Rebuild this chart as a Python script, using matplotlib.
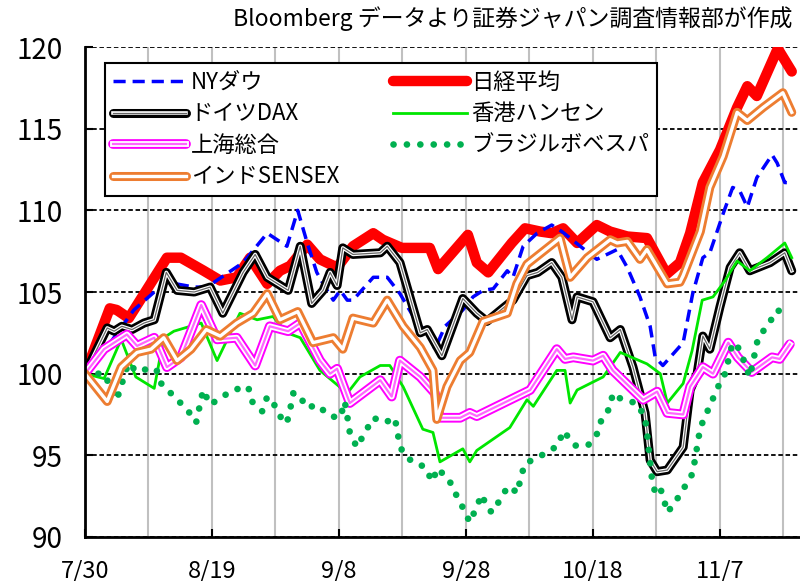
import matplotlib
matplotlib.use("Agg")
import matplotlib.pyplot as plt
import matplotlib.patheffects as pe

plt.rcParams['font.family'] = ['Noto Sans CJK JP', 'DejaVu Sans']

# days since 7/30 and index value (7/30 = 100)
nikkei_day = [0, 3.9, 5.0, 6.9, 12.9, 15.1, 18.7, 21.3, 23.9, 26.0, 28.7, 30.7, 32.3, 35.0, 37.0,
              39.7, 42.2, 45.4, 46.9, 49.9, 54.3, 55.6, 60.3, 61.7, 63.5, 67.2, 69.3, 71.7, 73.5,
              75.3, 77.5, 80.6, 82.7, 85.4, 88.5, 91.6, 93.7, 95.3, 97.3, 100.0, 102.7, 104.3,
              105.8, 109.1, 111.3]
nikkei_val = [100, 104.0, 103.9, 103.4, 107.1, 107.1, 106.3, 105.7, 105.9, 107.1, 105.5, 106.3,
              106.6, 107.9, 107.0, 106.5, 107.8, 108.6, 108.2, 107.7, 107.7, 106.4, 108.5, 106.8,
              106.2, 108.0, 108.9, 108.7, 108.6, 108.9, 108.0, 109.1, 108.7, 108.4, 108.3, 106.1,
              106.8, 108.6, 111.7, 113.7, 116.3, 117.6, 117.0, 119.9, 118.5]

ny_day = [0, 1.4, 7.7, 10.9, 12.9, 17.2, 19.2, 24.9, 28.7, 31.8, 33.5, 35.0, 36.5, 37.8, 39.1,
          40.2, 41.3, 42.2, 45.4, 47.6, 49.6, 51.7, 52.8, 54.3, 55.1, 56.7, 59.5, 61.1, 62.7,
          64.3, 66.5, 67.4, 69.0, 71.2, 73.5, 75.1, 78.0, 80.6, 83.8, 85.4, 87.4, 89.0, 89.8,
          91.0, 94.2, 95.7, 97.3, 98.4, 100.5, 102.0, 103.1, 104.3, 105.8, 108.2, 109.0, 110.2,
          111.3]
ny_val = [100, 100.5, 103.9, 105.0, 105.6, 105.3, 105.3, 106.8, 108.6, 107.8, 110.0, 108.0,
          106.2, 105.3, 104.5, 105.1, 104.5, 104.5, 105.9, 105.9, 104.9, 103.5, 102.9, 102.5,
          101.5, 102.9, 103.9, 104.7, 105.1, 105.2, 106.3, 105.9, 107.8, 108.6, 109.1, 108.7,
          107.8, 107.0, 107.6, 106.5, 104.7, 102.9, 101.0, 100.5, 101.9, 104.9, 107.1, 107.4,
          109.8, 111.4, 111.2, 110.2, 112.0, 113.4, 112.9, 111.7, 111.7]

dax_day = [0, 3.5, 4.6, 5.8, 7.4, 9.3, 10.9, 12.8, 14.5, 17.2, 19.7, 21.7, 24.9, 26.8, 28.7,
           32.0, 33.9, 35.7, 37.5, 38.6, 39.7, 40.6, 42.2, 46.5, 47.6, 49.6, 52.8, 53.9, 56.2,
           59.5, 61.7, 63.3, 65.8, 67.4, 69.6, 71.3, 73.5, 75.1, 76.7, 77.5, 80.0, 82.7, 84.3,
           86.3, 88.2, 89.0, 90.1, 91.7, 94.2, 95.3, 96.4, 97.3, 98.4, 100.0, 101.6, 103.1,
           104.7, 107.9, 110.2, 111.3]
dax_val = [100, 102.8, 102.6, 102.9, 102.7, 103.1, 103.3, 106.2, 105.1, 105.0, 105.3, 103.7,
           106.2, 107.3, 105.9, 105.1, 107.8, 104.3, 105.1, 106.2, 105.4, 107.7, 107.3, 107.4,
           107.8, 106.8, 102.5, 102.7, 101.1, 104.6, 103.7, 103.2, 104.0, 104.5, 106.0, 106.2,
           106.8, 105.9, 103.3, 104.7, 104.4, 102.2, 102.7, 100.4, 97.6, 94.7, 94.0, 94.1, 95.5,
           99.0, 100.0, 102.3, 101.5, 104.1, 106.5, 107.4, 106.3, 106.8, 107.4, 106.3]

hs_day = [0, 3.0, 5.7, 8.0, 10.9, 12.4, 14.0, 18.3, 20.8, 24.4, 27.1, 29.6, 31.8, 33.9, 37.0,
          41.3, 43.3, 46.5, 48.0, 50.1, 53.2, 54.8, 55.9, 59.5, 60.6, 61.7, 66.9, 69.6, 70.6,
          74.3, 75.6, 76.4, 77.5, 81.6, 84.3, 88.5, 90.6, 91.7, 94.2, 95.6, 97.2, 98.9, 100.8,
          102.7, 104.7, 107.4, 110.2, 111.3]
hs_val = [100, 99.7, 102.1, 99.8, 99.1, 102.2, 102.6, 103.1, 100.8, 103.7, 103.3, 103.5, 102.5,
          102.2, 100.2, 98.8, 99.8, 100.5, 100.5, 99.2, 96.6, 96.4, 94.6, 95.4, 94.6, 95.3, 96.7,
          98.4, 98.0, 100.2, 100.2, 98.2, 99.0, 99.8, 101.3, 100.6, 100.0, 98.2, 99.4, 101.4,
          104.5, 104.7, 105.7, 106.9, 106.3, 107.1, 108.0, 107.1]

sh_day = [0, 3.0, 6.6, 8.2, 10.9, 12.9, 15.1, 18.3, 20.8, 23.9, 26.8, 29.1, 32.0, 33.9, 37.0,
          38.6, 39.7, 41.7, 46.5, 48.3, 49.6, 52.8, 55.1, 55.9, 59.1, 60.6, 61.7, 70.1, 74.3,
          75.6, 76.9, 80.0, 81.6, 83.1, 87.9, 90.1, 91.7, 94.2, 95.3, 97.3, 98.9, 101.3, 102.8,
          105.0, 108.2, 109.4, 111.0]
sh_val = [100, 101.5, 102.4, 101.7, 102.2, 100.4, 101.0, 104.2, 102.1, 102.2, 100.5, 102.9,
          102.6, 103.1, 100.8, 100.0, 100.3, 98.2, 99.6, 98.6, 100.8, 99.8, 98.8, 97.3, 97.3,
          97.6, 97.4, 99.0, 101.5, 100.9, 101.0, 100.8, 101.1, 100.2, 98.4, 98.9, 97.6, 97.5,
          99.2, 100.4, 100.0, 101.9, 101.0, 100.1, 101.0, 100.9, 101.8]

bv_day = [0, 3.0, 5.0, 7.2, 7.7, 11.2, 12.0, 14.8, 16.1, 17.5, 18.6, 19.7, 23.3, 25.7, 26.3,
          27.9, 28.7, 30.2, 31.2, 31.8, 32.3, 32.8, 33.5, 35.0, 36.5, 38.6, 40.2, 40.9, 41.3,
          41.7, 42.8, 44.1, 45.4, 47.2, 48.8, 49.3, 49.9, 51.5, 53.5, 54.3, 54.8, 55.4, 57.2,
          58.3, 59.5, 60.6, 61.4, 62.5, 63.3, 64.1, 65.4, 66.6, 68.2, 68.5, 69.3, 70.4, 72.4,
          74.5, 75.3, 77.2, 79.2, 80.8, 81.4, 82.7, 83.1, 84.6, 86.9, 88.2, 88.5, 89.3, 89.8,
          90.6, 91.3, 91.7, 92.9, 94.8, 95.7, 96.9, 98.7, 99.7, 100.8, 102.0, 103.1, 104.3,
          104.7, 106.0, 107.6, 109.0, 111.0]
bv_val = [100, 100.0, 98.4, 101.1, 100.2, 100.3, 99.4, 98.3, 97.8, 97.0, 99.0, 98.1, 99.0, 99.2,
          98.3, 97.7, 98.6, 97.9, 97.0, 97.0, 97.8, 98.8, 98.8, 97.9, 98.1, 97.4, 97.3, 98.3,
          97.4, 96.4, 95.5, 96.4, 97.3, 97.0, 97.3, 96.2, 95.3, 94.6, 94.3, 93.7, 93.4, 94.2,
          93.6, 92.7, 91.8, 90.9, 91.6, 92.6, 91.8, 91.5, 92.3, 93.1, 92.7, 93.5, 94.5, 94.7,
          95.1, 95.6, 96.5, 95.6, 95.6, 96.4, 97.3, 97.9, 98.8, 98.4, 98.2, 97.3, 96.4, 93.5,
          92.7, 93.0, 92.1, 91.5, 92.1, 93.3, 93.9, 96.7, 98.3, 99.2, 100.0, 101.9, 101.5,
          100.2, 99.8, 102.2, 103.0, 103.9, 103.5]

in_day = [0, 3.5, 5.7, 8.2, 10.4, 12.4, 14.5, 16.7, 19.1, 21.3, 23.9, 26.5, 28.7, 30.7, 33.5,
          35.9, 37.0, 39.1, 40.6, 42.2, 45.4, 47.6, 50.1, 52.8, 54.8, 55.4, 57.0, 59.1, 60.6,
          62.7, 66.5, 68.0, 69.6, 74.8, 76.4, 79.1, 82.7, 83.8, 85.4, 87.4, 88.5, 91.7, 93.7,
          94.2, 96.9, 98.4, 100.5, 102.7, 104.3, 106.8, 109.9, 111.3]
in_val = [100, 98.3, 100.4, 101.3, 101.5, 102.2, 100.8, 101.5, 102.7, 102.3, 103.1, 103.7,
          104.9, 103.3, 103.8, 101.9, 102.0, 102.2, 101.5, 103.4, 103.1, 104.5, 102.9, 101.6,
          100.2, 97.2, 99.2, 100.8, 101.3, 103.2, 103.7, 105.5, 106.7, 108.3, 105.9, 107.1,
          108.2, 108.0, 108.1, 107.0, 107.6, 105.5, 105.6, 106.0, 108.7, 111.4, 113.3, 116.0,
          115.5, 116.3, 117.2, 116.0]

tick_days = [0, 20, 40, 60, 80, 100]
tick_labels = ['7/30', '8/19', '9/8', '9/28', '10/18', '11/7']

fig = plt.figure(figsize=(8, 5.81), dpi=100)
ax = fig.add_axes([85 / 800, 1 - 537 / 581, 715 / 800, 490 / 581])

ln_nk, = ax.plot(nikkei_day, nikkei_val, color='#FF0000', lw=7.5, solid_capstyle='round',
                 solid_joinstyle='round', label='日経平均')
ln_ny, = ax.plot(ny_day, ny_val, color='#0000FF', lw=2.5, dashes=(3.5, 2), label='NYダウ')
ln_dax, = ax.plot(dax_day, dax_val, color='#666666', lw=0.9, solid_joinstyle='round',
                  path_effects=[pe.Stroke(linewidth=6.5, foreground='black', joinstyle='round', capstyle='round'),
                                pe.Stroke(linewidth=2.6, foreground='white', joinstyle='round'),
                                pe.Normal()], label='ドイツDAX')
ln_hs, = ax.plot(hs_day, hs_val, color='#00E600', lw=2, label='香港ハンセン')
ln_sh, = ax.plot(sh_day, sh_val, color='#FF66FF', lw=1.6, solid_joinstyle='round',
                 path_effects=[pe.Stroke(linewidth=7, foreground='#FF00FF', joinstyle='round', capstyle='round'),
                               pe.Stroke(linewidth=4.2, foreground='white', joinstyle='round'),
                               pe.Normal()], label='上海総合')
ln_bv, = ax.plot(bv_day, bv_val, color='#00B050', lw=4.8, linestyle=(0, (0.01, 2.0)),
                 dash_capstyle='round', label='ブラジルボベスパ')
ln_in, = ax.plot(in_day, in_val, color='white', lw=2.4, solid_joinstyle='round',
                 path_effects=[pe.Stroke(linewidth=6.5, foreground='#ED7D31', joinstyle='round', capstyle='round'),
                               pe.Normal()], label='インドSENSEX')

ax.set_xlim(0, 112.6)
ax.set_ylim(90, 120)
ax.set_yticks([90, 95, 100, 105, 110, 115, 120])
ax.set_xticks(tick_days)
ax.set_xticklabels(tick_labels)
ax.set_xticks(range(0, 111, 10), minor=True)
ax.xaxis.grid(True, which='both', color='#C0C0C0', lw=1.5)
ax.yaxis.grid(True, which='major', color='black', lw=1.3, linestyle=(0, (2.5, 1.5)))
ax.set_axisbelow(True)

for s in ['top', 'right']:
    ax.spines[s].set_visible(False)
for s in ['left', 'bottom']:
    ax.spines[s].set_linewidth(2)
ax.tick_params(axis='y', direction='in', length=6, width=1.5, labelsize=20, pad=16)
ax.tick_params(axis='x', which='major', direction='in', length=6, width=1.5, labelsize=17, pad=16)
ax.tick_params(axis='x', which='minor', length=0)

handles = [ln_ny, ln_dax, ln_sh, ln_in, ln_nk, ln_hs, ln_bv]
leg = ax.legend(handles=handles, labels=[h.get_label() for h in handles], ncol=2,
                loc='upper left', bbox_to_anchor=(0.028, 0.967, 0.772, 0.0), mode='expand',
                fontsize=16, handlelength=3.3, handletextpad=0.2, labelspacing=0.38,
                borderpad=0.35, fancybox=False, framealpha=1, edgecolor='black',
                borderaxespad=0)
leg.get_frame().set_linewidth(1.5)

fig.text(0.99, 0.968, 'Bloomberg データより証券ジャパン調査情報部が作成', ha='right', va='center',
         fontsize=16.5)

fig.savefig('out.png', dpi=100)
